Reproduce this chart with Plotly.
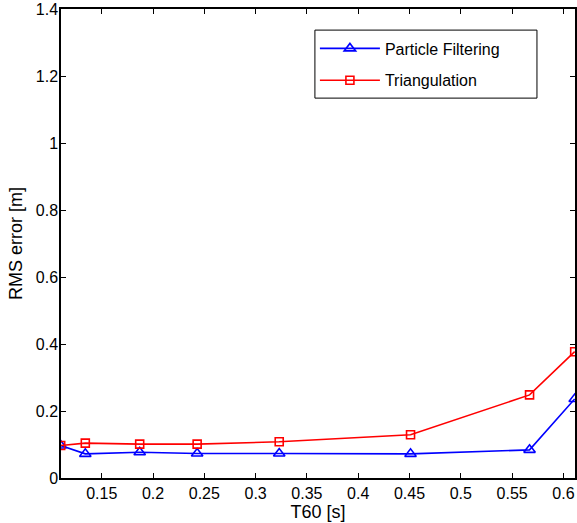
import plotly.graph_objects as go

t60 = [0.11, 0.134, 0.187, 0.243, 0.323, 0.451, 0.567, 0.611]
pf_rms = [0.097, 0.072, 0.077, 0.073, 0.073, 0.072, 0.084, 0.236]
tri_rms = [0.097, 0.104, 0.101, 0.101, 0.108, 0.129, 0.248, 0.377]

x_ticks = [0.15, 0.2, 0.25, 0.3, 0.35, 0.4, 0.45, 0.5, 0.55, 0.6]
x_tick_labels = ["0.15", "0.2", "0.25", "0.3", "0.35", "0.4", "0.45", "0.5", "0.55", "0.6"]
y_ticks = [0, 0.2, 0.4, 0.6, 0.8, 1.0, 1.2, 1.4]
y_tick_labels = ["0", "0.2", "0.4", "0.6", "0.8", "1", "1.2", "1.4"]

font = "Liberation Sans, Arial, Helvetica, sans-serif"

fig = go.Figure()
fig.add_trace(go.Scatter(
    x=t60, y=pf_rms, mode="lines+markers", name="Particle Filtering",
    legendgroup="pf",
    line=dict(color="#0000ff", width=1.6),
    marker=dict(symbol="triangle-up-open", size=10, color="#0000ff", line=dict(width=1.6)),
))
fig.add_trace(go.Scatter(
    x=t60, y=tri_rms, mode="lines+markers", name="Triangulation",
    legendgroup="tri",
    line=dict(color="#ff0000", width=1.6),
    marker=dict(symbol="square-open", size=8, color="#ff0000", line=dict(width=1.6)),
))

axis_common = dict(
    showline=True, linecolor="black", linewidth=1.5, mirror="ticks",
    ticks="inside", ticklen=5, tickcolor="black", tickwidth=1,
    showgrid=False, zeroline=False, automargin=False,
    tickfont=dict(family=font, size=16, color="black"),
)

fig.update_layout(
    width=577, height=523,
    margin=dict(l=61, r=2, t=9, b=45),
    paper_bgcolor="white", plot_bgcolor="white",
    font=dict(family=font, color="black"),
    xaxis=dict(range=[0.1103, 0.6113], tickvals=x_ticks, ticktext=x_tick_labels,
               title=dict(text="T60 [s]", font=dict(family=font, size=18), standoff=2),
               **axis_common),
    yaxis=dict(range=[0, 1.4], tickvals=y_ticks, ticktext=y_tick_labels,
               ticklabelstandoff=-2,
               title=dict(text="RMS error [m]", font=dict(family=font, size=18), standoff=8),
               **axis_common),
    legend=dict(x=0.494, y=0.952, xanchor="left", yanchor="top",
                borderwidth=0, bgcolor="rgba(0,0,0,0)",
                font=dict(family=font, size=16, color="black"),
                traceorder="grouped", tracegroupgap=8, itemwidth=60),
    shapes=[dict(type="rect", xref="paper", yref="paper",
                 x0=0.494, x1=0.926, y0=0.810, y1=0.955,
                 line=dict(color="black", width=1), fillcolor="rgba(0,0,0,0)",
                 layer="above")],
    showlegend=True,
)

fig.write_html("out.html",
               config={"displayModeBar": False},
               post_script="document.body.style.margin='0px';document.body.style.overflow='hidden';")
